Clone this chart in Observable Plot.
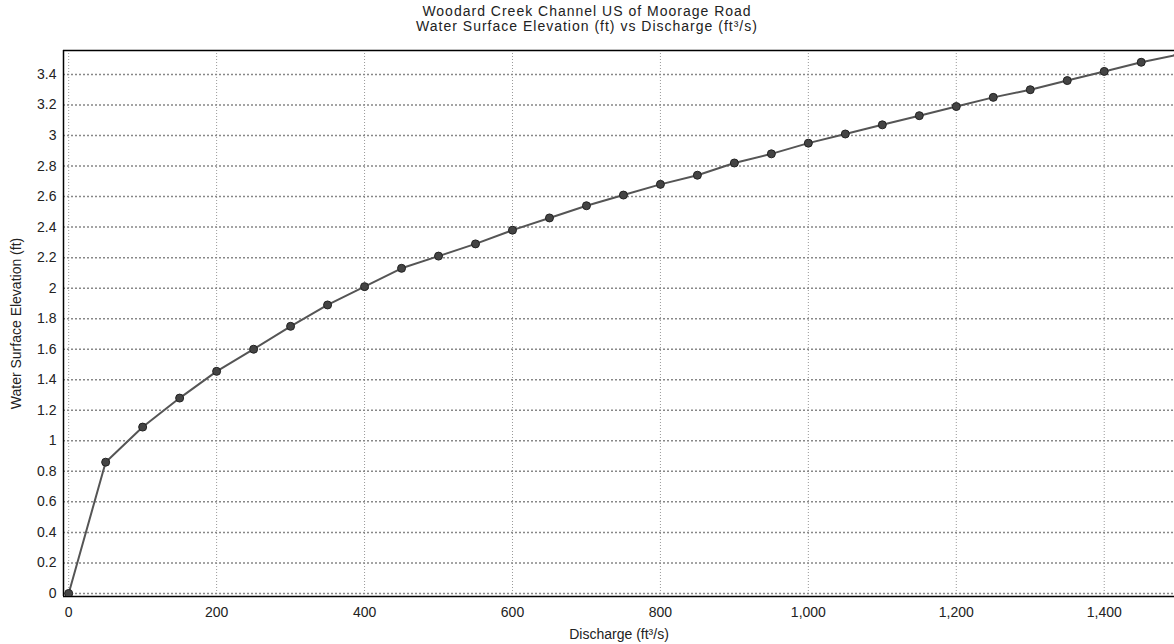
<!DOCTYPE html>
<html>
<head>
<meta charset="utf-8">
<script src="https://cdn.jsdelivr.net/npm/d3@7"></script>
<script src="https://cdn.jsdelivr.net/npm/@observablehq/plot@0.6"></script>
<style>
  html, body { margin: 0; padding: 0; background: #fff; overflow: hidden; }
  #title { width: 1174px; height: 36px; text-align: center; font: 14px "Liberation Sans", Arial, sans-serif; letter-spacing: 1px; line-height: 15px; padding-top: 4px; box-sizing: border-box; color: #222; }
  svg { display: block; }
</style>
</head>
<body>
<div id="title">Woodard Creek Channel US of Moorage Road<br>Water Surface Elevation (ft) vs Discharge (ft³/s)</div>
<div id="chart"></div>
<script>
const discharge = [0, 50, 100, 150, 200, 250, 300, 350, 400, 450, 500, 550, 600, 650, 700, 750, 800, 850, 900, 950, 1000, 1050, 1100, 1150, 1200, 1250, 1300, 1350, 1400, 1450, 1500];
const elevation = [0, 0.86, 1.09, 1.28, 1.455, 1.60, 1.75, 1.89, 2.01, 2.13, 2.21, 2.29, 2.38, 2.46, 2.54, 2.61, 2.68, 2.74, 2.82, 2.88, 2.95, 3.01, 3.07, 3.13, 3.19, 3.25, 3.30, 3.36, 3.42, 3.48, 3.53];
const xTicks = [0, 200, 400, 600, 800, 1000, 1200, 1400];
const yTicks = [0, 0.2, 0.4, 0.6, 0.8, 1, 1.2, 1.4, 1.6, 1.8, 2, 2.2, 2.4, 2.6, 2.8, 3, 3.2, 3.4];

const data = discharge.map((q, i) => ({q, h: elevation[i]}));

const chart = Plot.plot({
  width: 1174,
  height: 608,
  marginLeft: 63,
  marginRight: 0,
  marginTop: 14,
  marginBottom: 48,
  style: {fontFamily: '"Liberation Sans", Arial, sans-serif', fontSize: "14px", color: "#222", background: "#fff"},
  x: {domain: [-7, 1495], label: null},
  y: {domain: [-0.02, 3.557], label: null},
  marks: [
    Plot.gridX(xTicks, {stroke: "#999", strokeOpacity: 1, strokeWidth: 1, strokeDasharray: "1,2"}),
    Plot.gridY(yTicks, {stroke: "#888", strokeOpacity: 1, strokeWidth: 1.5, strokeDasharray: "2,2"}),
    Plot.axisX(xTicks, {tickSize: 0, tickPadding: 11, tickFormat: d3.format(","), fontSize: 14, label: "Discharge (ft³/s)", labelAnchor: "center", labelOffset: 42, labelArrow: "none"}),
    Plot.axisY(yTicks, {tickSize: 0, tickPadding: 7, tickFormat: d => String(+d.toFixed(1)), fontSize: 14, label: "Water Surface Elevation (ft)", labelAnchor: "center", labelOffset: 52, labelArrow: "none"}),
    Plot.ruleX([-7], {stroke: "#000", strokeWidth: 1.5}),
    Plot.ruleY([-0.02], {stroke: "#000", strokeWidth: 1.5}),
    Plot.ruleY([3.557], {stroke: "#000", strokeWidth: 1.5}),
    Plot.line(data, {x: "q", y: "h", stroke: "#555", strokeWidth: 2, clip: true}),
    Plot.dot(data, {x: "q", y: "h", r: 4, fill: "#444", stroke: "#222", strokeWidth: 1, clip: true})
  ]
});
document.getElementById("chart").appendChild(chart);
</script>
</body>
</html>
